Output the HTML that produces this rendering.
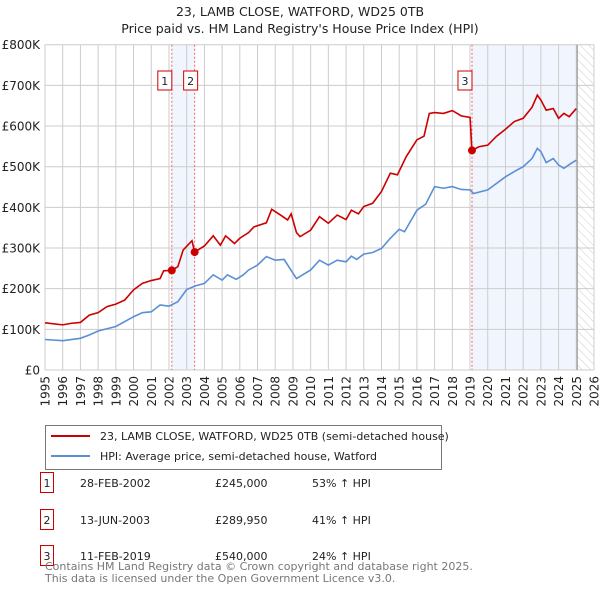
<!DOCTYPE html>
<html><head><meta charset="utf-8"><style>
body{margin:0;background:#fff;width:600px;height:590px;overflow:hidden;font-family:"Liberation Sans","DejaVu Sans",sans-serif}
svg text{font-family:"DejaVu Sans","Liberation Sans",sans-serif}
</style></head><body>
<svg id="c" width="600" height="590" xmlns="http://www.w3.org/2000/svg">
<defs><pattern id="hatch" width="6" height="6" patternUnits="userSpaceOnUse" patternTransform="rotate(-45)"><line x1="0" y1="0" x2="0" y2="6" stroke="#ccc" stroke-width="1"/></pattern></defs>
<text x="300" y="16" text-anchor="middle" font-size="12.5" fill="#222">23, LAMB CLOSE, WATFORD, WD25 0TB</text>
<text x="300" y="33" text-anchor="middle" font-size="12.5" fill="#222">Price paid vs. HM Land Registry's House Price Index (HPI)</text>
<g id="plot"></g>
<g>
<rect x="45.5" y="425.5" width="396" height="44" fill="#fff" stroke="#777"/>
<line x1="51" y1="436" x2="90" y2="436" stroke="#cc0000" stroke-width="2"/>
<text x="100" y="440" font-size="11" fill="#222">23, LAMB CLOSE, WATFORD, WD25 0TB (semi-detached house)</text>
<line x1="51" y1="456" x2="90" y2="456" stroke="#5b8fd4" stroke-width="2"/>
<text x="100" y="460" font-size="11" fill="#222">HPI: Average price, semi-detached house, Watford</text>
</g>
<g id="table"></g>
<text x="45" y="570" font-size="11" fill="#777">Contains HM Land Registry data © Crown copyright and database right 2025.</text>
<text x="45" y="582" font-size="11" fill="#777">This data is licensed under the Open Government Licence v3.0.</text>
</svg>
<script>
const yTicks=[0,100,200,300,400,500,600,700,800];
const yLabels=["£0","£100K","£200K","£300K","£400K","£500K","£600K","£700K","£800K"];
const xYears=[1995,1996,1997,1998,1999,2000,2001,2002,2003,2004,2005,2006,2007,2008,2009,2010,2011,2012,2013,2014,2015,2016,2017,2018,2019,2020,2021,2022,2023,2024,2025,2026];
const hpiT=[1995,1996,1997,1997.5,1998,1999,2000,2000.5,2001,2001.5,2002,2002.5,2003,2003.5,2004,2004.5,2005,2005.3,2005.8,2006.2,2006.5,2007,2007.5,2008,2008.5,2009,2009.2,2009.4,2010,2010.5,2011,2011.5,2012,2012.3,2012.6,2013,2013.5,2014,2014.5,2015,2015.3,2016,2016.5,2017,2017.5,2018,2018.5,2019,2019.2,2020,2020.5,2021,2021.5,2022,2022.5,2022.8,2023,2023.3,2023.7,2024,2024.3,2024.7,2025];
const hpiV=[75,72,78,86,96,107,131,141,143,160,157,168,198,207,213,234,221,234,223,234,246,258,279,270,272,238,225,230,246,270,258,270,266,280,272,285,289,299,324,346,340,393,408,451,447,451,444,443,434,443,459,475,488,500,520,545,537,510,520,504,496,508,516];
const priceT=[1995,1996,1996.5,1997,1997.5,1998,1998.5,1999,1999.5,2000,2000.5,2001,2001.5,2001.7,2002.16,2002.5,2002.8,2003.3,2003.45,2004,2004.5,2004.9,2005.2,2005.7,2006,2006.5,2006.8,2007.5,2007.8,2008.3,2008.7,2008.9,2009.2,2009.4,2010,2010.5,2011,2011.5,2012,2012.3,2012.7,2013,2013.5,2014,2014.5,2014.9,2015.4,2016,2016.4,2016.7,2017,2017.5,2018,2018.5,2019.0,2019.11,2019.5,2020,2020.5,2021,2021.5,2022,2022.5,2022.8,2023,2023.3,2023.7,2024,2024.3,2024.6,2025];
const priceV=[116,111,115,117,135,141,156,162,172,197,213,220,225,244,245,254,295,318,290,305,330,307,330,311,324,338,352,362,395,381,369,384,338,328,344,377,361,381,370,393,384,402,410,439,484,480,525,566,575,631,633,631,638,625,621,540,549,553,575,592,611,619,646,676,664,639,643,619,631,623,643];
const saleT=[2002.16,2003.45,2019.11];
const saleV=[245,289.95,540];
const saleNum=["1","2","3"];
const saleDate=["28-FEB-2002","13-JUN-2003","11-FEB-2019"];
const salePrice=["£245,000","£289,950","£540,000"];
const saleHpi=["53% ↑ HPI","41% ↑ HPI","24% ↑ HPI"];

const L=45,R=594,T=44.7,B=370;
const x=t=>L+(t-1995)/(2026-1995)*(R-L);
const y=v=>B-v/800*(B-T);
const NS="http://www.w3.org/2000/svg";
const plot=document.getElementById('plot');
function mk(tag,a,p){const e=document.createElementNS(NS,tag);for(const k in a)e.setAttribute(k,a[k]);(p||plot).appendChild(e);return e;}

let r=mk('rect',{x:x(saleT[0]),y:T,width:x(saleT[1])-x(saleT[0]),height:B-T,fill:'#eef3fd',opacity:0.8});


r=mk('rect',{x:x(saleT[2]),y:T,width:x(2025.05)-x(saleT[2]),height:B-T,fill:'#eef3fd',opacity:0.8});


r=mk('rect',{x:x(2025.05),y:T,width:R-x(2025.05),height:B-T,fill:'url(#hatch)'});



yTicks.forEach((v,i)=>{
 let l=mk('line',{x1:L,x2:R,y1:y(v),y2:y(v),stroke:'#ccc','stroke-width':1});
 
 
 let t=mk('text',{x:40,y:y(v)+4.5,'text-anchor':'end','font-size':12,fill:'#222'});
 t.textContent=yLabels[i];
 
 
});
xYears.forEach(yr=>{
 let l=mk('line',{x1:x(yr),x2:x(yr),y1:T,y2:B,stroke:'#ccc','stroke-width':1});
 
 
 let t=mk('text',{x:0,y:0,'font-size':12,fill:'#222','text-anchor':'end',transform:`translate(${x(yr)+4.5},${B+6}) rotate(-90)`});
 t.textContent=yr;
 
 
});
let vl=mk('line',{x1:x(2025.05),x2:x(2025.05),y1:T,y2:B,stroke:'#999','stroke-width':1.2});


saleT.forEach(t=>{
 let l=mk('line',{x1:x(t),x2:x(t),y1:T,y2:B,stroke:'#ee6666','stroke-width':1,'stroke-dasharray':'2,2'});
 
 
});
let p=mk('polyline',{points:hpiT.map((t,i)=>x(t)+','+y(hpiV[i])).join(' '),fill:'none',stroke:'#5b8fd4','stroke-width':1.6});


p=mk('polyline',{points:priceT.map((t,i)=>x(t)+','+y(priceV[i])).join(' '),fill:'none',stroke:'#cc0000','stroke-width':1.6});


saleT.forEach((t,i)=>{
 let c=mk('circle',{cx:x(t),cy:y(saleV[i]),r:4,fill:'#cc0000'});
 
 
 const bx=x(t)-(i==2?0:0);
 let g=mk('g',{});
 
 
 const off=i==0?-8:(i==1?-5:-8);
 mk('rect',{x:x(t)+off-6,y:71,width:14,height:19,fill:'#fff',stroke:'#cc0000'},g);
 let tx=mk('text',{x:x(t)+off+1,y:85,'text-anchor':'middle','font-size':11,fill:'#222'},g);
 tx.textContent=saleNum[i];
});
const tb=document.getElementById('table');
saleT.forEach((t,i)=>{
 const cy=[483,520,556][i];
 let b=mk('rect',{x:40.5,y:cy-10.5,width:13,height:20,fill:'#fff',stroke:'#cc0000'},tb);
 
 
 const cols=[[47,saleNum[i],'middle'],[80,saleDate[i],'start'],[215,salePrice[i],'start'],[312,saleHpi[i],'start']];
 cols.forEach(c=>{
  let e=mk('text',{x:c[0],y:cy+4,'font-size':11,fill:'#222','text-anchor':c[2]},tb);
  e.textContent=c[1];
  
  
 });
});
</script>
</body></html>
